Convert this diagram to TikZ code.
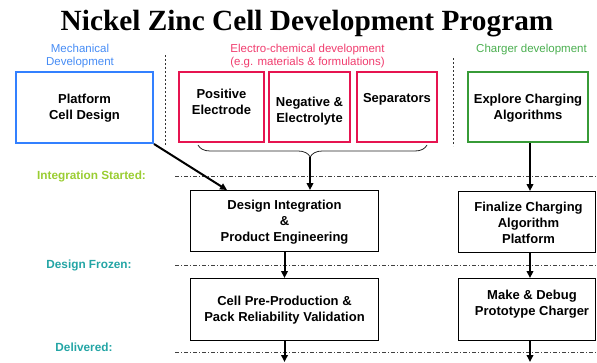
\documentclass[tikz,border=0pt]{standalone}
\usepackage{fontspec}
\setmainfont{Liberation Serif}
\setsansfont{Liberation Sans}
\usetikzlibrary{arrows.meta,decorations.pathreplacing,calc}

\definecolor{mechblue}{RGB}{51,128,255}
\definecolor{mechtext}{RGB}{70,140,245}
\definecolor{chemred}{RGB}{230,20,80}
\definecolor{chemtext}{RGB}{240,60,110}
\definecolor{chggreen}{RGB}{55,155,55}
\definecolor{chgtext}{RGB}{75,175,80}
\definecolor{startgreen}{RGB}{154,205,50}
\definecolor{teal}{RGB}{35,165,165}

\tikzset{
  cbox/.style={draw=#1, line width=2pt, inner sep=0pt},
  kbox/.style={draw=black, line width=0.9pt, inner sep=0pt},
  boxtext/.style={font=\sffamily\bfseries\fontsize{13}{16}\selectfont, align=center, inner sep=0pt},
  grouplabel/.style={font=\sffamily\fontsize{11.5}{13}\selectfont, align=center, inner sep=0pt, text=#1},
  milelabel/.style={font=\sffamily\bfseries\fontsize{11.8}{14}\selectfont, inner sep=0pt, text=#1},
  milestone/.style={draw=black!75, line width=0.8pt, dash pattern=on 4pt off 2pt on 1pt off 2pt},
  divider/.style={draw=black!80, line width=0.9pt, dash pattern=on 2pt off 2pt},
  arr/.style={line width=2pt, -{Triangle[length=7pt,width=6.5pt]}},
}

\begin{document}
\begin{tikzpicture}[x=1pt,y=-1pt]
\useasboundingbox (0,0) rectangle (597,362);

% title
\node[font=\rmfamily\bfseries\fontsize{29.3}{33}\selectfont, anchor=base, inner sep=0pt] (title) at (307,30) {Nickel Zinc Cell Development Program};

% group headings
\node[grouplabel=mechtext] (mechL) at (80,56.5) {Mechanical\\Development};
\node[grouplabel=chemtext] (chemL) at (307.5,56.5) {Electro-chemical development\\(e.g. materials \& formulations)};
\node[grouplabel=chgtext] (chgL) at (531.5,50) {Charger development};

% column dividers
\draw[divider] (165,55) -- (165,146);
\draw[divider] (453,58) -- (453,146);

% top row boxes
\node[cbox=mechblue, minimum width=137, minimum height=71] (plat) at (84.5,107.5) {};
\node[boxtext] (platT) at (84.5,108) {Platform\\Cell Design};

\node[cbox=chemred, minimum width=85, minimum height=70] (pos) at (221.5,107) {};
\node[boxtext] (posT) at (221.5,102) {Positive\\Electrode};

\node[cbox=chemred, minimum width=81, minimum height=70] (neg) at (309.5,107) {};
\node[boxtext] (negT) at (309.5,111) {Negative \&\\Electrolyte};

\node[cbox=chemred, minimum width=80, minimum height=70] (sep) at (397,107) {};
\node[boxtext] (sepT) at (397,99) {Separators};

\node[cbox=chggreen, minimum width=120, minimum height=70] (chg) at (528,107) {};
\node[boxtext] (chgT) at (528,108) {Explore Charging\\Algorithms};

% brace gathering the electro-chemical work
\draw[black!85, line width=0.8pt, decorate, decoration={brace, amplitude=12pt, aspect=0.51}] (427,145) -- (198,145);
\coordinate (tip) at (310,157);

% milestones
\node[milelabel=startgreen] (intL) at (91.5,176) {Integration Started:};
\draw[milestone] (175,176) -- (597,176);
\node[milelabel=teal] (frzL) at (89,265.5) {Design Frozen:};
\draw[milestone] (175,265) -- (597,265);
\node[milelabel=teal] (delL) at (84,347.5) {Delivered:};
\draw[milestone] (175,352) -- (597,352);

% lower boxes
\node[kbox, minimum width=188, minimum height=61] (desint) at (284.5,221) {};
\node[boxtext] (desT) at (284.5,222) {Design Integration\\\&\\Product Engineering};

\node[kbox, minimum width=137, minimum height=61] (final) at (527,222) {};
\node[boxtext] (finT) at (528.5,223) {Finalize Charging\\Algorithm\\Platform};

\node[kbox, minimum width=188, minimum height=62] (cellpre) at (284.5,309.5) {};
\node[boxtext] (cellT) at (284.5,310) {Cell Pre-Production \&\\Pack Reliability Validation};

\node[kbox, minimum width=137, minimum height=62] (make) at (527,309.5) {};
\node[boxtext] (makeT) at (532,304.5) {Make \& Debug\\Prototype Charger};

% flow arrows
\draw[arr] (plat.south east) -- ($(desint.north west)+(37,0)$);
\draw[arr] (tip) -- (tip |- desint.north);
\draw[arr] (chg.south -| 530,0) -- (final.north -| 530,0);
\draw[arr] (desint.south) -- (cellpre.north);
\draw[arr] (final.south -| 530,0) -- (make.north -| 530,0);
\coordinate (outL) at (284.5,362);
\coordinate (outR) at (530,362);
\draw[arr] (cellpre.south) -- (outL);
\draw[arr] (make.south -| outR) -- (outR);
\end{tikzpicture}
\end{document}
